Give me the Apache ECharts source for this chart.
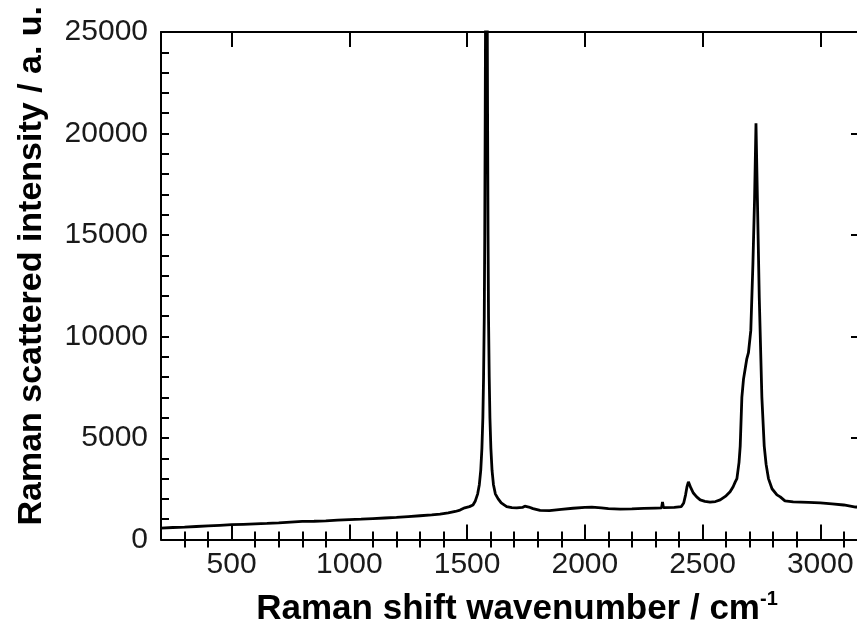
<!DOCTYPE html>
<html>
<head>
<meta charset="utf-8">
<script src="https://cdn.jsdelivr.net/npm/echarts@6/dist/echarts.min.js"></script>
<style>
  html, body { margin: 0; padding: 0; background: #fff; overflow: hidden; }
  /* the frame's right edge runs a few pixels past the visible page */
  #chart { width: 866px; height: 632px; }
</style>
</head>
<body>
<div id="chart"></div>
<script>
// Raman spectrum: wavenumber (cm^-1) and scattered intensity (a. u.)
const shift = [
  200, 250, 300, 350, 400, 450, 500, 550, 600, 650, 700, 750, 800, 850, 900, 950,
  1000, 1050, 1100, 1150, 1200, 1250, 1300, 1350, 1385, 1420, 1450, 1470, 1490, 1510,
  1525, 1535, 1545, 1552, 1558, 1563, 1567, 1570, 1573, 1575, 1577, 1579, 1582, 1585,
  1587, 1589, 1591, 1594, 1597, 1601, 1606, 1612, 1620, 1632, 1645, 1668, 1690, 1711,
  1735, 1745, 1753, 1762, 1780, 1810, 1850, 1900, 1950, 2000, 2030, 2070, 2100, 2150,
  2200, 2250, 2300, 2326, 2330, 2334, 2380, 2410, 2420, 2428, 2434, 2440, 2450, 2461,
  2475, 2490, 2510, 2532, 2555, 2575, 2600, 2617, 2630, 2639, 2646, 2655, 2660, 2667,
  2674, 2681, 2688, 2695, 2705, 2714, 2721, 2727, 2733, 2741, 2752, 2762, 2770, 2780,
  2795, 2816, 2830, 2850, 2885, 2950, 3000, 3050, 3100, 3150, 3190
];
const intensity = [
  560, 590, 610, 640, 670, 700, 730, 750, 770, 790, 820, 860, 890, 900, 920, 950,
  975, 1000, 1030, 1060, 1090, 1130, 1170, 1210, 1250, 1310, 1380, 1450, 1560, 1620,
  1700, 1900, 2250, 2700, 3400, 4500, 6000, 8000, 11000, 15000, 21000, 28000, 33000, 28000,
  21000, 15000, 11000, 8000, 6000, 4500, 3400, 2700, 2250, 2000, 1800, 1620, 1570, 1560,
  1580, 1640, 1690, 1600, 1520, 1430, 1420, 1480, 1540, 1580, 1590, 1560, 1520, 1500,
  1510, 1530, 1550, 1560, 1850, 1570, 1580, 1620, 1800, 2200, 2600, 2840, 2550, 2290,
  2100, 1950, 1880, 1840, 1870, 1950, 2150, 2350, 2600, 2840, 3000, 3800, 4600, 7000,
  7900, 8400, 8900, 9200, 10300, 13600, 16800, 20500, 16800, 11900, 7000, 4600, 3700, 3000,
  2500, 2200, 2100, 1900, 1850, 1830, 1800, 1750, 1700, 1600, 1580
];

// Tick positions along the wavenumber axis
const xMajorTicks = [500, 1000, 1500, 2000, 2500, 3000];
const xMinorTicks = [300, 400, 600, 700, 800, 900, 1100, 1200, 1300, 1400, 1600, 1700, 1800,
  1900, 2100, 2200, 2300, 2400, 2600, 2700, 2800, 2900, 3100];

const xTitle = 'Raman shift wavenumber / cm';
const xTitleSup = '-1';
const yTitle = 'Raman scattered intensity / a. u.';

const FONT = '"Liberation Sans", Arial, Helvetica, sans-serif';
const X_MIN = 200, X_MAX = 3190;
const Y_MIN = 0, Y_MAX = 25000;

const lineStyle = { color: '#000', width: 2 };
const plain = v => String(v);

function xAxisPart(position, ticks, len, opts) {
  return Object.assign({
    type: 'value', min: X_MIN, max: X_MAX, position: position,
    axisLine: { show: true, onZero: false, lineStyle: lineStyle },
    axisTick: { show: true, inside: true, length: len, customValues: ticks, lineStyle: lineStyle },
    axisLabel: { show: false },
    splitLine: { show: false }
  }, opts || {});
}

const chart = echarts.init(document.getElementById('chart'), null, { renderer: 'canvas' });
chart.setOption({
  animation: false,
  backgroundColor: '#fff',
  grid: { left: 161, right: 1, top: 32, bottom: 87, containLabel: false },
  xAxis: [
    xAxisPart('bottom', xMajorTicks, 15, {
      axisLabel: {
        show: true, customValues: xMajorTicks, margin: 10, formatter: plain,
        fontFamily: FONT, fontSize: 30, color: '#1a1a1a'
      },
      name: '{t|' + xTitle + '}{s|' + xTitleSup + '}',
      nameLocation: 'middle', nameGap: 50,
      nameTextStyle: {
        padding: [0, 0, 0, 8],
        rich: {
          t: { fontFamily: FONT, fontSize: 35, fontWeight: 'bold', color: '#000', lineHeight: 40 },
          s: { fontFamily: FONT, fontSize: 20, fontWeight: 'bold', color: '#000', lineHeight: 22, verticalAlign: 'top' }
        }
      }
    }),
    xAxisPart('bottom', xMinorTicks, 8, { axisLine: { show: false } }),
    xAxisPart('top', xMajorTicks, 15),
    xAxisPart('top', xMinorTicks, 8, { axisLine: { show: false } })
  ],
  yAxis: [
    {
      type: 'value', min: Y_MIN, max: Y_MAX, interval: 5000, position: 'left',
      axisLine: { show: true, onZero: false, lineStyle: lineStyle },
      axisTick: { show: true, inside: true, length: 8, lineStyle: lineStyle },
      minorTick: { show: true, splitNumber: 5, length: 8, lineStyle: lineStyle },
      axisLabel: { margin: 13, formatter: plain, fontFamily: FONT, fontSize: 30, color: '#1a1a1a' },
      splitLine: { show: false },
      name: yTitle, nameLocation: 'middle', nameGap: 112,
      nameTextStyle: {
        fontFamily: FONT, fontSize: 34, fontWeight: 'bold', color: '#000',
        padding: [0, 0, 0, 40]
      }
    },
    {
      type: 'value', min: Y_MIN, max: Y_MAX, interval: 5000, position: 'right',
      axisLine: { show: true, onZero: false, lineStyle: lineStyle },
      axisTick: { show: true, inside: true, length: 14, lineStyle: lineStyle },
      minorTick: { show: true, splitNumber: 5, length: 6, lineStyle: lineStyle },
      axisLabel: { show: false },
      splitLine: { show: false }
    }
  ],
  series: [{
    type: 'line',
    xAxisIndex: 0, yAxisIndex: 0,
    data: shift.map((x, i) => [x, intensity[i]]),
    showSymbol: false,
    clip: true,
    lineStyle: { color: '#000', width: 2.8 }
  }]
});
</script>
</body>
</html>
